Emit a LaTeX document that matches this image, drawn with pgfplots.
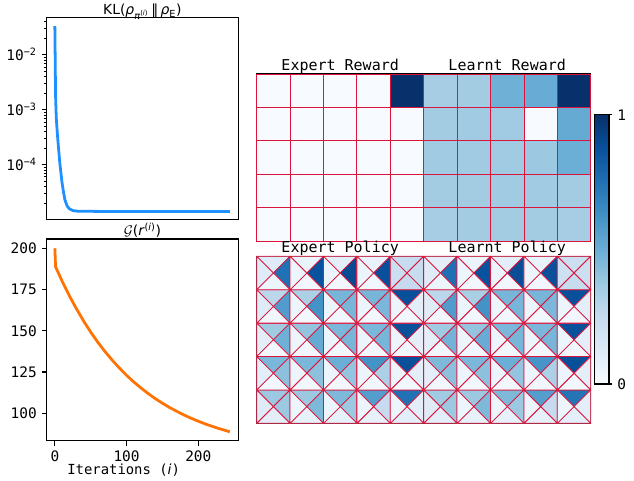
\documentclass[border=0pt]{standalone}
\usepackage{fontspec}
\setmainfont{DejaVu Sans Mono}
\newfontfamily\dvs{DejaVu Sans}
\usepackage{pgfplots}
\pgfplotsset{compat=1.18}
\usepackage{pgfplotstable}

\definecolor{kblue}{RGB}{30,144,255}
\definecolor{korange}{RGB}{255,115,5}
\definecolor{crim}{RGB}{220,20,60}

\pgfplotsset{colormap={Blues}{rgb255=(247,251,255) rgb255=(222,235,247) rgb255=(198,219,239) rgb255=(158,202,225) rgb255=(107,174,214) rgb255=(66,146,198) rgb255=(33,113,181) rgb255=(8,81,156) rgb255=(8,48,107)}}

% cell shapes (half cell = 12.025pt)
\pgfdeclareplotmark{cellsq}{\pgfpathrectangle{\pgfpoint{-12.025pt}{-12.025pt}}{\pgfpoint{24.05pt}{24.05pt}}\pgfusepathqfillstroke}
\pgfdeclareplotmark{triT}{\pgfpathmoveto{\pgfpointorigin}\pgfpathlineto{\pgfpoint{-12.025pt}{12.025pt}}\pgfpathlineto{\pgfpoint{12.025pt}{12.025pt}}\pgfpathclose\pgfusepathqfillstroke}
\pgfdeclareplotmark{triR}{\pgfpathmoveto{\pgfpointorigin}\pgfpathlineto{\pgfpoint{12.025pt}{12.025pt}}\pgfpathlineto{\pgfpoint{12.025pt}{-12.025pt}}\pgfpathclose\pgfusepathqfillstroke}
\pgfdeclareplotmark{triB}{\pgfpathmoveto{\pgfpointorigin}\pgfpathlineto{\pgfpoint{12.025pt}{-12.025pt}}\pgfpathlineto{\pgfpoint{-12.025pt}{-12.025pt}}\pgfpathclose\pgfusepathqfillstroke}
\pgfdeclareplotmark{triL}{\pgfpathmoveto{\pgfpointorigin}\pgfpathlineto{\pgfpoint{-12.025pt}{-12.025pt}}\pgfpathlineto{\pgfpoint{-12.025pt}{12.025pt}}\pgfpathclose\pgfusepathqfillstroke}

\pgfplotsset{
  every axis title shift=0pt,
  lineax/.style={scale only axis, enlargelimits=false, tick pos=left, tick align=outside,
    axis line style={line width=0.8pt}, major tick length=3.5pt, minor tick length=2pt,
    major tick style={line width=0.8pt, black}, minor tick style={line width=0.6pt, black},
    tick label style={font=\fontsize{10.4}{12}\selectfont},
    /pgf/number format/assume math mode=true,
    title style={font=\fontsize{10}{12}\selectfont, at={(0.5,1)}, anchor=base}},
  gridax/.style={scale only axis, width=120.25pt, height=120.25pt, enlargelimits=false,
    xmin=0, xmax=5, ymin=0, ymax=5, xtick=\empty, ytick=\empty, axis on top,
    axis line style={line width=0.8pt}, colormap name=Blues,
    point meta min=0, point meta max=1,
    title style={font=\fontsize{10.8}{12}\selectfont, at={(0.5,1)}, anchor=base}},
  cellplot/.style={scatter, only marks, scatter src=explicit, mark=#1,
    scatter/use mapped color={draw=crim, fill=mapped color},
    mark options={line width=0.55pt, line join=round}},
}

% reward grids: x y v
\pgfplotstableread{
x y v
0.5 4.5 0
1.5 4.5 0
2.5 4.5 0
3.5 4.5 0
4.5 4.5 1
0.5 3.5 0
1.5 3.5 0
2.5 3.5 0
3.5 3.5 0
4.5 3.5 0
0.5 2.5 0
1.5 2.5 0
2.5 2.5 0
3.5 2.5 0
4.5 2.5 0
0.5 1.5 0
1.5 1.5 0
2.5 1.5 0
3.5 1.5 0
4.5 1.5 0
0.5 0.5 0
1.5 0.5 0
2.5 0.5 0
3.5 0.5 0
4.5 0.5 0
}\expR

\pgfplotstableread{
x y v
0.5 4.5 0.35
1.5 4.5 0.36
2.5 4.5 0.49
3.5 4.5 0.51
4.5 4.5 1.00
0.5 3.5 0.36
1.5 3.5 0.37
2.5 3.5 0.37
3.5 3.5 0.00
4.5 3.5 0.52
0.5 2.5 0.37
1.5 2.5 0.37
2.5 2.5 0.37
3.5 2.5 0.38
4.5 2.5 0.50
0.5 1.5 0.36
1.5 1.5 0.36
2.5 1.5 0.37
3.5 1.5 0.37
4.5 1.5 0.36
0.5 0.5 0.35
1.5 0.5 0.36
2.5 0.5 0.36
3.5 0.5 0.36
4.5 0.5 0.35
}\lrnR

% policy grids: x y top right bottom left
\pgfplotstableread{
x y t r b l
0.5 4.5 0.12 0.75 0.05 0.12
1.5 4.5 0.06 0.87 0.03 0.05
2.5 4.5 0.10 0.90 0.03 0.05
3.5 4.5 0.07 0.88 0.03 0.05
4.5 4.5 0.24 0.24 0.25 0.22
0.5 3.5 0.28 0.58 0.03 0.12
1.5 3.5 0.33 0.62 0.03 0.05
2.5 3.5 0.47 0.47 0.03 0.05
3.5 3.5 0.47 0.46 0.03 0.05
4.5 3.5 0.88 0.10 0.03 0.05
0.5 2.5 0.37 0.49 0.03 0.10
1.5 2.5 0.40 0.52 0.03 0.05
2.5 2.5 0.46 0.47 0.03 0.05
3.5 2.5 0.46 0.47 0.03 0.05
4.5 2.5 0.88 0.10 0.03 0.05
0.5 1.5 0.46 0.42 0.03 0.10
1.5 1.5 0.46 0.42 0.03 0.05
2.5 1.5 0.50 0.40 0.03 0.05
3.5 1.5 0.62 0.33 0.03 0.05
4.5 1.5 0.88 0.10 0.03 0.05
0.5 0.5 0.38 0.38 0.10 0.12
1.5 0.5 0.38 0.45 0.08 0.05
2.5 0.5 0.45 0.38 0.08 0.05
3.5 0.5 0.57 0.25 0.08 0.05
4.5 0.5 0.75 0.10 0.10 0.05
}\expP

\pgfplotstableread{
x y t r b l
0.5 4.5 0.10 0.76 0.05 0.12
1.5 4.5 0.06 0.87 0.03 0.05
2.5 4.5 0.10 0.89 0.03 0.05
3.5 4.5 0.07 0.88 0.03 0.05
4.5 4.5 0.22 0.22 0.24 0.21
0.5 3.5 0.28 0.58 0.03 0.12
1.5 3.5 0.34 0.62 0.03 0.05
2.5 3.5 0.47 0.47 0.03 0.05
3.5 3.5 0.47 0.46 0.03 0.05
4.5 3.5 0.88 0.10 0.03 0.05
0.5 2.5 0.37 0.48 0.03 0.10
1.5 2.5 0.40 0.51 0.03 0.05
2.5 2.5 0.46 0.47 0.03 0.05
3.5 2.5 0.46 0.47 0.03 0.05
4.5 2.5 0.88 0.10 0.03 0.05
0.5 1.5 0.45 0.42 0.03 0.10
1.5 1.5 0.46 0.42 0.03 0.05
2.5 1.5 0.50 0.40 0.03 0.05
3.5 1.5 0.61 0.33 0.03 0.05
4.5 1.5 0.88 0.10 0.03 0.05
0.5 0.5 0.37 0.38 0.10 0.12
1.5 0.5 0.38 0.45 0.08 0.05
2.5 0.5 0.45 0.38 0.08 0.05
3.5 0.5 0.57 0.25 0.08 0.05
4.5 0.5 0.74 0.10 0.10 0.05
}\lrnP

\begin{document}
\begin{tikzpicture}
\path[use as bounding box] (0,0) rectangle (456.48pt,345.6pt);

% KL divergence (log)
\begin{axis}[lineax, at={(33.5pt,187.7pt)}, anchor=south west,
  width=138.1pt, height=145.4pt, ymode=log,
  xmin=-11.6, xmax=255.8, ymin=1.012e-5, ymax=0.0481,
  xtick=\empty, ytick={1e-4,1e-3,1e-2},
  yticklabels={10\textsuperscript{−4},10\textsuperscript{−3},10\textsuperscript{−2}},
  minor ytick={2e-5,3e-5,4e-5,5e-5,6e-5,7e-5,8e-5,9e-5,2e-4,3e-4,4e-4,5e-4,6e-4,7e-4,8e-4,9e-4,2e-3,3e-3,4e-3,5e-3,6e-3,7e-3,8e-3,9e-3,2e-2,3e-2,4e-2},
  title={\dvs KL(\textit{ρ}\textsubscript{\textit{π}\textsuperscript{(\textit{i})}}\,‖\,\textit{ρ}\textsubscript{E})},
  title style={yshift=1.7pt}]
\addplot[kblue, line width=2pt] coordinates {
(0,0.0334) (1,1.78e-3) (2,7.1e-4) (3,4.5e-4) (4,3.0e-4) (5,2.1e-4) (7,1.05e-4)
(10,4.7e-5) (12,3.2e-5) (14,2.3e-5) (17,1.78e-5) (20,1.58e-5) (25,1.46e-5)
(32,1.42e-5) (60,1.41e-5) (244,1.41e-5)};
\end{axis}

% G(r)
\begin{axis}[lineax, at={(33.5pt,28.3pt)}, anchor=south west,
  width=138.1pt, height=145.2pt,
  xmin=-11.6, xmax=255.8, ymin=83.4, ymax=205.6,
  xtick={0,100,200}, ytick={100,125,150,175,200},
  title={{\dvs$\mathcal{G}$(\textit{r}\textsuperscript{(\textit{i})})}},
  title style={yshift=2.4pt},
  xlabel={Iterations ({\dvs\itshape i})},
  xlabel style={font=\fontsize{10}{12}\selectfont, at={(axis description cs:0.402,0)}, anchor=base, yshift=-24pt}]
\addplot[korange, line width=2pt] coordinates {
(0,200) (1,188.8) (10,180.2) (20,171.4) (30,163.4) (40,156.0) (50,149.2)
(60,143.0) (70,137.4) (80,132.2) (90,127.4) (100,123.0) (110,119.0)
(120,115.4) (130,112.0) (140,108.9) (150,106.1) (160,103.5) (170,101.2)
(180,99.0) (190,97.0) (200,95.2) (210,93.5) (220,92.0) (230,90.6) (244,88.8)};
\end{axis}

% Expert reward
\begin{axis}[gridax, at={(184.8pt,172.1pt)}, anchor=south west, title={Expert Reward}, title style={yshift=2.5pt}]
\addplot[cellplot=cellsq] table[x=x,y=y,meta=v] {\expR};
\end{axis}

% Learnt reward + colorbar
\begin{axis}[gridax, at={(305.05pt,172.1pt)}, anchor=south west, title={Learnt Reward}, title style={yshift=2.5pt},
  colorbar, colorbar style={at={(parent axis.north east)}, anchor=north west,
    xshift=-5.8pt, yshift=-29.5pt, scale only axis, width=10.4pt, height=193.7pt,
    ytick={0,1}, yticklabel pos=right, ytick pos=right, tick align=outside,
    major tick length=2.5pt, major tick style={line width=0.8pt, black},
    axis line style={line width=0.8pt},
    yticklabel style={font=\fontsize{10.4}{12}\selectfont},
    /pgf/number format/assume math mode=true}]
\addplot[cellplot=cellsq] table[x=x,y=y,meta=v] {\lrnR};
\end{axis}

% Expert policy
\begin{axis}[gridax, at={(184.8pt,40.8pt)}, anchor=south west, title={Expert Policy}, title style={yshift=3pt}]
\addplot[cellplot=triT] table[x=x,y=y,meta=t] {\expP};
\addplot[cellplot=triR] table[x=x,y=y,meta=r] {\expP};
\addplot[cellplot=triB] table[x=x,y=y,meta=b] {\expP};
\addplot[cellplot=triL] table[x=x,y=y,meta=l] {\expP};
\end{axis}

% Learnt policy
\begin{axis}[gridax, at={(305.05pt,40.8pt)}, anchor=south west, title={Learnt Policy}, title style={yshift=3pt}]
\addplot[cellplot=triT] table[x=x,y=y,meta=t] {\lrnP};
\addplot[cellplot=triR] table[x=x,y=y,meta=r] {\lrnP};
\addplot[cellplot=triB] table[x=x,y=y,meta=b] {\lrnP};
\addplot[cellplot=triL] table[x=x,y=y,meta=l] {\lrnP};
\end{axis}
\end{tikzpicture}
\end{document}
